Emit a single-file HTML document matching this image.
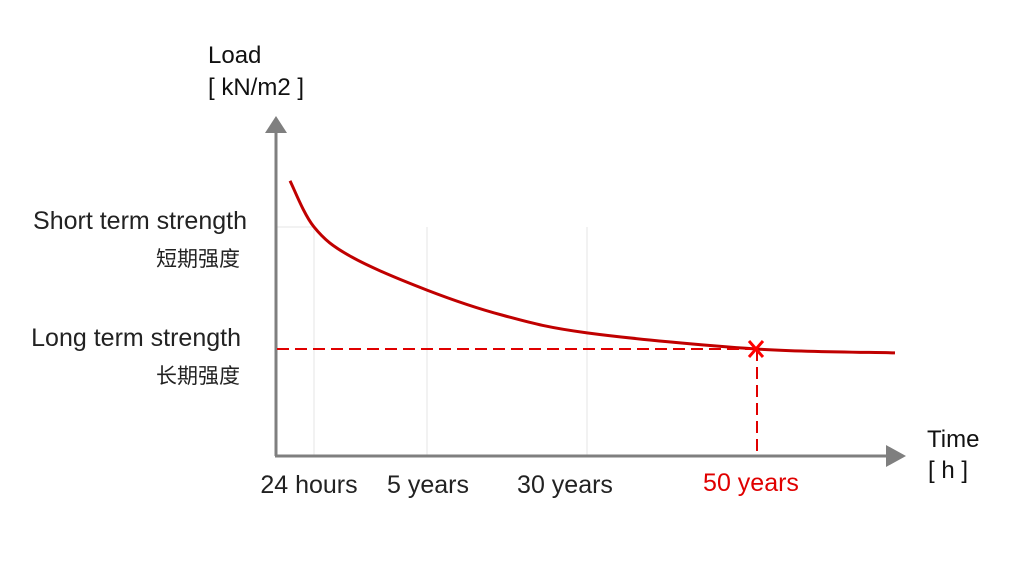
<!DOCTYPE html>
<html><head><meta charset="utf-8"><style>
body{margin:0;background:#fff;width:1026px;height:566px;overflow:hidden}
svg{display:block}
text{font-family:"Liberation Sans","Noto Sans CJK SC",sans-serif}
</style></head><body>
<svg id="chart" width="1026" height="566">
<g id="grid"></g>
<g id="axes">
 <line x1="276" y1="456" x2="276" y2="132" stroke="#7f7f7f" stroke-width="3"/>
 <polygon points="265,133 287,133 276,116" fill="#7f7f7f"/>
 <line x1="275" y1="456" x2="888" y2="456" stroke="#7f7f7f" stroke-width="3"/>
 <polygon points="886,445 886,467 906,456" fill="#7f7f7f"/>
</g>
<g id="marks"></g>
<text x="208" y="63" font-size="24" fill="#111">Load</text>
<text x="208" y="95" font-size="24" fill="#111">[ kN/m2 ]</text>
<text x="927" y="447" font-size="24" fill="#111">Time</text>
<text x="928" y="478" font-size="24" fill="#111">[ h ]</text>
<text x="247" y="229" font-size="25" text-anchor="end" fill="#222">Short term strength</text>
<text x="240" y="266" font-size="21" text-anchor="end" fill="#222">短期强度</text>
<text x="241" y="346" font-size="25" text-anchor="end" fill="#222">Long term strength</text>
<text x="240" y="383" font-size="21" text-anchor="end" fill="#222">长期强度</text>
<g id="ticks"></g>
</svg>
<script>
const tickLabels=["24 hours","5 years","30 years","50 years"];
const tickValues=[1,10,27,40];
const curveX=[-1,1,4,10,18,27,40,48];
const curveY=[93,81,73.2,64.6,58.1,53.5,49.3,48.3];
const markerX=[40];
const markerY=[49.3];
const shortTerm=[81];
const labelDx=[-5,1,-22,-5];
const xs=v=>{
  const dv=[-1,1,10,27,40,48], px=[290,314,427,587,756,895];
  for(let i=0;i<dv.length-1;i++){if(v<=dv[i+1]||i==dv.length-2){const t=(v-dv[i])/(dv[i+1]-dv[i]);return px[i]+t*(px[i+1]-px[i]);}}
};
function yv(v){return 349-(v-49.3)*3.85;}
const NS="http://www.w3.org/2000/svg";
const grid=document.getElementById('grid'),marks=document.getElementById('marks'),ticks=document.getElementById('ticks');
tickValues.forEach((v,i)=>{
  if(i<3){const l=document.createElementNS(NS,'line');
  l.setAttribute('x1',xs(v));l.setAttribute('x2',xs(v));l.setAttribute('y1',yv(shortTerm[0]));l.setAttribute('y2',455);
  l.setAttribute('stroke','#e6e6e6');l.setAttribute('stroke-width','1');
  
  
  grid.appendChild(l);}
  const t=document.createElementNS(NS,'text');
  t.setAttribute('x',xs(v)+labelDx[i]);t.setAttribute('y',i==3?491:493);t.setAttribute('text-anchor','middle');
  t.setAttribute('font-size','25');t.setAttribute('fill',i==3?'#e00000':'#222');
  t.textContent=tickLabels[i];
  
  
  ticks.appendChild(t);
});
const h=document.createElementNS(NS,'line');
h.setAttribute('x1',276);h.setAttribute('x2',xs(tickValues[0]));h.setAttribute('y1',yv(shortTerm[0]));h.setAttribute('y2',yv(shortTerm[0]));
h.setAttribute('stroke','#e6e6e6');


grid.appendChild(h);
let pts=curveX.map((x,i)=>[xs(x),yv(curveY[i])]);
let d='M'+pts[0][0]+','+pts[0][1];
for(let i=0;i<pts.length-1;i++){const p0=pts[Math.max(0,i-1)],p1=pts[i],p2=pts[i+1],p3=pts[Math.min(pts.length-1,i+2)];
 d+=' C'+(p1[0]+(p2[0]-p0[0])/6)+','+(p1[1]+(p2[1]-p0[1])/6)+' '+(p2[0]-(p3[0]-p1[0])/6)+','+(p2[1]-(p3[1]-p1[1])/6)+' '+p2[0]+','+p2[1];}
const c=document.createElementNS(NS,'path');
c.setAttribute('d',d);c.setAttribute('fill','none');c.setAttribute('stroke','#c00000');c.setAttribute('stroke-width','3');


marks.appendChild(c);
const mx=xs(markerX[0]),my=yv(markerY[0]);
const dh=document.createElementNS(NS,'line');
dh.setAttribute('x1',277);dh.setAttribute('x2',mx);dh.setAttribute('y1',my);dh.setAttribute('y2',my);
dh.setAttribute('stroke','#e00000');dh.setAttribute('stroke-width','2');dh.setAttribute('stroke-dasharray','12,6');


marks.appendChild(dh);
const dv=document.createElementNS(NS,'line');
dv.setAttribute('x1',mx+1);dv.setAttribute('x2',mx+1);dv.setAttribute('y1',my);dv.setAttribute('y2',455);
dv.setAttribute('stroke','#e00000');dv.setAttribute('stroke-width','2');dv.setAttribute('stroke-dasharray','12,6');


marks.appendChild(dv);
const x=document.createElementNS(NS,'path');
x.setAttribute('d','M'+(mx-7)+','+(my-8)+' L'+(mx+7)+','+(my+8)+' M'+(mx+7)+','+(my-8)+' L'+(mx-7)+','+(my+8));
x.setAttribute('stroke','#ff0000');x.setAttribute('stroke-width','3');


marks.appendChild(x);
</script>
</body></html>
